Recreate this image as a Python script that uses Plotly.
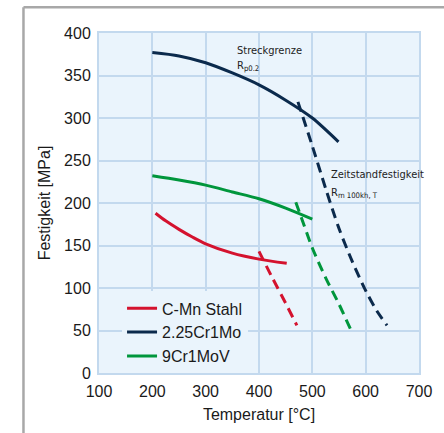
import plotly.graph_objects as go

# Data
cmn_T = [206, 225, 250, 275, 300, 350, 400, 452]
cmn_val = [188, 179, 169, 160, 152, 141, 134, 129]
cmn_dash_T = [400, 425, 450, 471]
cmn_dash_val = [143, 112, 82, 56]

cr225_T = [200, 250, 300, 350, 400, 450, 500, 549]
cr225_val = [377, 373, 365, 353, 339, 321, 300, 272]
cr225_dash_T = [473, 500, 525, 550, 575, 600, 620, 640]
cr225_dash_val = [319, 267, 217, 170, 131, 97, 74, 56]

cr9_T = [200, 250, 300, 350, 400, 450, 500]
cr9_val = [232, 227, 221, 213, 205, 194, 181]
cr9_dash_T = [469, 485, 500, 525, 550, 572]
cr9_dash_val = [201, 173, 147, 112, 81, 51]

names = ["C-Mn Stahl", "2.25Cr1Mo", "9Cr1MoV"]
colors = ["#d4122e", "#0b2a4c", "#00963c"]

x_ticks = [100, 200, 300, 400, 500, 600, 700]
y_ticks = [0, 50, 100, 150, 200, 250, 300, 350, 400]

fig = go.Figure()
series = [
    (cmn_T, cmn_val, cmn_dash_T, cmn_dash_val),
    (cr225_T, cr225_val, cr225_dash_T, cr225_dash_val),
    (cr9_T, cr9_val, cr9_dash_T, cr9_dash_val),
]
for (t, v, td, vd), name, col in zip(series, names, colors):
    fig.add_trace(go.Scatter(x=t, y=v, mode="lines", name=name,
                             line=dict(color=col, width=3, shape="spline", smoothing=0.8)))
    fig.add_trace(go.Scatter(x=td, y=vd, mode="lines", showlegend=False,
                             line=dict(color=col, width=3, dash="10px,6px", shape="spline",
                                       smoothing=0.8)))

ann_font = dict(family="Liberation Sans Narrow, DejaVu Sans Condensed, Liberation Sans", size=11,
                color="#222")
fig.add_annotation(x=355.5, y=380, text="Streckgrenze", showarrow=False, xanchor="left",
                   font=ann_font)
fig.add_annotation(x=355.5, y=361, text="R<sub>p0.2</sub>", showarrow=False, xanchor="left",
                   font=ann_font)
fig.add_annotation(x=531, y=233, text="Zeitstandfestigkeit", showarrow=False, xanchor="left",
                   font=ann_font)
fig.add_annotation(x=531, y=212, text="R<sub>m 100kh, T</sub>", showarrow=False, xanchor="left",
                   font=ann_font)

# outer gray frame (open to the right and bottom, beyond the page)
fig.add_shape(type="line", xref="paper", yref="paper", x0=-0.236, y0=1.076, x1=1.2, y1=1.076,
              line=dict(color="#a8a8a8", width=2.5), layer="above")
fig.add_shape(type="line", xref="paper", yref="paper", x0=-0.236, y0=1.076, x1=-0.236, y1=-0.25,
              line=dict(color="#a8a8a8", width=2.5), layer="above")

grid = "#c3d9ee"
fig.update_layout(
    width=444, height=433,
    margin=dict(l=99, r=14, t=33, b=57),
    paper_bgcolor="white", plot_bgcolor="#eaf4fc",
    font=dict(family="Liberation Sans, Arial", size=16, color="#1a1a1a"),
    xaxis=dict(range=[100, 700], tickvals=x_ticks, showgrid=True, gridcolor=grid, gridwidth=2,
               zeroline=False, showline=True, linecolor=grid, linewidth=2, mirror=True,
               ticks="", ticklabelstandoff=3,
               title=dict(text="Temperatur [°C]", font=dict(size=16), standoff=10)),
    yaxis=dict(range=[0, 400], tickvals=y_ticks, showgrid=True, gridcolor=grid, gridwidth=2,
               zeroline=False, showline=True, linecolor=grid, linewidth=2, mirror=True,
               ticks="", ticklabelstandoff=3,
               title=dict(text="Festigkeit [MPa]", font=dict(size=16), standoff=9)),
    legend=dict(x=0.072, y=0.24, xanchor="left", yanchor="top", bgcolor="#eaf4fc",
                font=dict(size=16), tracegroupgap=0, itemwidth=30),
    showlegend=True,
)

fig.write_html("out.html")
